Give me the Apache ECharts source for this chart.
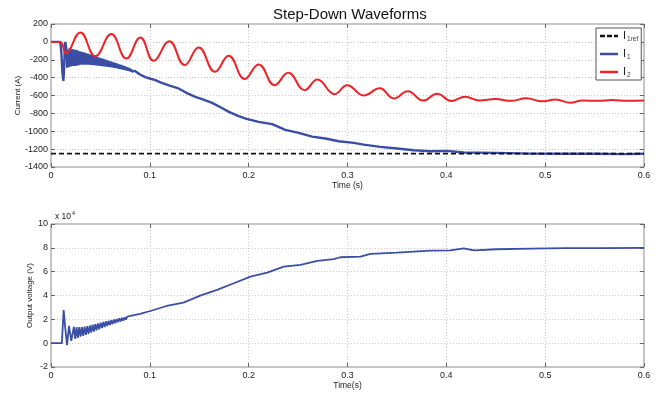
<!DOCTYPE html>
<html><head><meta charset="utf-8">
<script src="https://cdn.jsdelivr.net/npm/echarts@6/dist/echarts.min.js"></script>
<style>html,body{margin:0;padding:0;background:#fff}#c{width:668px;height:394px}</style>
</head><body><div id="c"></div>
<script>
// ---- Data ----
const titleText = 'Step-Down Waveforms';
const legendNames = ['I1ref', 'I1', 'I2'];

const irefTime = [0, 0.6];
const irefVals = [-1250, -1250];

const i2Time = [0, 0.0094, 0.015, 0.0297, 0.0448, 0.061, 0.0762, 0.0904, 0.1038, 0.1197, 0.1352, 0.1494, 0.166, 0.1797, 0.196, 0.210, 0.2263, 0.24, 0.2567, 0.2695, 0.287, 0.2996, 0.3164, 0.3326, 0.3468, 0.361, 0.3765, 0.3907, 0.405, 0.419, 0.4335, 0.4497, 0.465, 0.481, 0.497, 0.5104, 0.5255, 0.5374, 0.554, 0.5678, 0.584, 0.6];
const i2Vals = [0, 0, -128, 105, -160, 88, -187, 50, -212, 8, -260, -62, -335, -155, -415, -252, -484, -346, -540, -420, -585, -484, -600, -520, -633, -553, -656, -580, -662, -615, -655, -640, -660, -632, -665, -645, -682, -656, -660, -650, -660, -656];

const i1Time = [0, 0.0094, 0.0105, 0.0115, 0.0125, 0.0132, 0.0138, 0.0145, 0.0152, 0.0158, 0.0164,
  0.017, 0.018, 0.019, 0.020, 0.021, 0.022, 0.023, 0.024, 0.025, 0.026, 0.027, 0.028, 0.029, 0.030,
  0.031, 0.032, 0.033, 0.034, 0.035, 0.036, 0.037, 0.038, 0.039, 0.040, 0.041, 0.042, 0.043, 0.044,
  0.045, 0.046, 0.047, 0.048, 0.049, 0.050, 0.051, 0.052, 0.053, 0.054, 0.055, 0.056, 0.057, 0.058,
  0.059, 0.060, 0.061, 0.062, 0.063, 0.064, 0.065, 0.066, 0.067, 0.068, 0.069, 0.070, 0.071, 0.072,
  0.073, 0.074, 0.075, 0.076, 0.077, 0.078, 0.079, 0.080, 0.081, 0.082, 0.083, 0.084, 0.085,
  0.090, 0.0954, 0.1, 0.1056, 0.112, 0.12, 0.129, 0.137, 0.146, 0.155, 0.163, 0.172, 0.18, 0.19, 0.197,
  0.21, 0.2237, 0.2371, 0.2506, 0.2642, 0.2776, 0.2911, 0.3063, 0.3164, 0.3333, 0.3502, 0.367, 0.3839,
  0.4008, 0.4176, 0.45, 0.4855, 0.52, 0.55, 0.58, 0.6];
const i1Vals = [0, 0, -120, -330, -436, -320, -120, 0, 20, -100, -290,
  -90, -280, -70, -275, -80, -270, -85, -268, -90, -265, -98, -260, -105, -255,
  -112, -255, -118, -254, -125, -254, -132, -255, -140, -256, -148, -258, -155, -260,
  -162, -262, -170, -265, -178, -268, -185, -270, -192, -273, -200, -276, -208, -279,
  -215, -282, -222, -285, -230, -289, -237, -293, -245, -297, -252, -302, -260, -307,
  -268, -312, -277, -317, -286, -322, -295, -328, -305, -333, -314, -338, -325,
  -365, -395, -410, -428, -458, -490, -521, -570, -615, -650, -682, -735, -783, -830, -858,
  -895, -921, -985, -1019, -1060, -1081, -1112, -1130, -1150, -1175, -1193, -1212, -1224,
  -1220, -1238, -1242, -1250, -1252, -1252, -1256, -1252];

const vTime = [0, 0.011, 0.0128, 0.0145, 0.0162, 0.0182, 0.0205,
  0.0232, 0.0245, 0.0259, 0.0272, 0.0286, 0.0299, 0.0313, 0.0326, 0.034, 0.0353, 0.0367, 0.038,
  0.0394, 0.0407, 0.0421, 0.0434, 0.0448, 0.0461, 0.0475, 0.0488, 0.0502, 0.0515, 0.0529, 0.0542,
  0.0556, 0.0569, 0.0583, 0.0596, 0.061, 0.0623, 0.0637, 0.065, 0.0664, 0.0677, 0.0691, 0.0704,
  0.0718, 0.0731, 0.0745, 0.0758, 0.0772, 0.0785, 0.08, 0.0813, 0.083, 0.085,
  0.09, 0.1005, 0.117, 0.134, 0.151, 0.168, 0.185, 0.2018, 0.2187, 0.2355, 0.2524, 0.2693, 0.2861,
  0.2928, 0.3131, 0.3232, 0.35, 0.3839, 0.404, 0.4176, 0.428, 0.451, 0.4855, 0.52, 0.56, 0.6];
const vVals = [0, 0, 2.78, 1.2, -0.16, 1.45, 0.2,
  1.38, 0.35, 1.35, 0.45, 1.35, 0.55, 1.35, 0.62, 1.38, 0.7, 1.42, 0.78,
  1.48, 0.88, 1.55, 0.98, 1.6, 1.08, 1.66, 1.17, 1.72, 1.26, 1.78, 1.35,
  1.83, 1.44, 1.88, 1.52, 1.93, 1.6, 1.98, 1.68, 2.03, 1.76, 2.08, 1.83,
  2.12, 1.9, 2.17, 1.98, 2.22, 2.06, 2.28, 2.14, 2.34, 2.25,
  2.45, 2.7, 3.12, 3.4, 3.99, 4.47, 5.03, 5.59, 5.92, 6.43, 6.57, 6.9, 7.05,
  7.21, 7.27, 7.49, 7.6, 7.77, 7.78, 7.95, 7.78, 7.88, 7.94, 7.97, 7.98, 8.0];

// ---- Build ----
const zip = (a, b) => a.map((t, i) => [t, b[i]]);
const FONT = 'Liberation Sans, Arial, sans-serif';
const gridColor = '#c8c8c8';
const frameColor = '#8a8a8a';
const fmtX = v => String(Math.round(v * 10) / 10);
const fmtY = v => String(Math.round(v));
const tick = { show: true, inside: true, length: 4, lineStyle: { color: '#666' } };

function mainX(gi, name) {
  return {
    type: 'value', gridIndex: gi, min: 0, max: 0.6, interval: 0.1, position: 'bottom',
    name: name, nameLocation: 'middle', nameGap: 14, nameMoveOverlap: false,
    nameTextStyle: { fontFamily: FONT, fontSize: 8.5, color: '#222' },
    axisLine: { show: false, onZero: false },
    axisTick: tick,
    axisLabel: { fontFamily: FONT, fontSize: 9, color: '#222', margin: 4, formatter: fmtX },
    splitLine: { show: true, lineStyle: { color: gridColor, type: [1, 2], width: 1 } }
  };
}
function topX(gi) {
  return {
    type: 'value', gridIndex: gi, position: 'top', min: 0, max: 0.6, interval: 0.1,
    axisLine: { show: false, onZero: false }, axisLabel: { show: false }, splitLine: { show: false },
    axisTick: tick
  };
}
function mainY(gi, min, max, interval, name, gap) {
  return {
    type: 'value', gridIndex: gi, min: min, max: max, interval: interval, position: 'left',
    name: name, nameLocation: 'middle', nameGap: gap, nameRotate: 90, nameMoveOverlap: false,
    nameTextStyle: { fontFamily: FONT, fontSize: 8, color: '#222' },
    axisLine: { show: false, onZero: false },
    axisTick: tick,
    axisLabel: { fontFamily: FONT, fontSize: 9, color: '#222', margin: 3, formatter: fmtY },
    splitLine: { show: true, lineStyle: { color: gridColor, type: [1, 2], width: 1 } }
  };
}
function rightY(gi, min, max, interval) {
  return {
    type: 'value', gridIndex: gi, position: 'right', min: min, max: max, interval: interval,
    axisLine: { show: false, onZero: false }, axisLabel: { show: false }, splitLine: { show: false },
    axisTick: tick
  };
}

const chart = echarts.init(document.getElementById('c'), null, { renderer: 'canvas' });
const sub = {
  i: { fontFamily: FONT, fontSize: 11, color: '#222', lineHeight: 14 },
  s: { fontFamily: FONT, fontSize: 6.5, color: '#444', lineHeight: 14, padding: [7, 0, 0, 1] }
};
const dashIcon = 'path://M0,0h5v2h-5z M7,0h5v2h-5z M14,0h4v2h-4z';
chart.setOption({
  animation: false,
  backgroundColor: '#fff',
  title: {
    text: titleText, left: 268, top: 2,
    textStyle: { fontFamily: FONT, fontSize: 15, fontWeight: 'normal', color: '#111' }
  },
  grid: [
    { left: 51, top: 24, width: 593, height: 143, show: true, borderColor: frameColor, borderWidth: 1, backgroundColor: 'transparent' },
    { left: 51, top: 224, width: 593, height: 143, show: true, borderColor: frameColor, borderWidth: 1, backgroundColor: 'transparent' }
  ],
  xAxis: [mainX(0, 'Time (s)'), mainX(1, 'Time(s)'), topX(0), topX(1)],
  yAxis: [mainY(0, -1400, 200, 200, 'Current (A)', 29), mainY(1, -2, 10, 2, 'Output voltage (V)', 17),
          rightY(0, -1400, 200, 200), rightY(1, -2, 10, 2)],
  legend: {
    data: [
      { name: 'I1ref', icon: dashIcon },
      { name: 'I1', icon: 'rect' },
      { name: 'I2', icon: 'rect' }
    ],
    orient: 'vertical', left: 596, top: 28, symbolKeepAspect: false,
    padding: [1, 3, 1, 4], itemGap: 4, itemWidth: 18, itemHeight: 2.5,
    backgroundColor: '#fff', borderColor: '#555', borderWidth: 1, borderRadius: 0,
    formatter: n => n === 'I1ref' ? '{i|I}{s|1ref}' : (n === 'I1' ? '{i|I}{s|1}' : '{i|I}{s|2}'),
    textStyle: { rich: sub, padding: [0, 0, 0, 0] }
  },
  graphic: [{
    type: 'text', left: 55, top: 209,
    style: { text: '{a|x 10}{b|4}', rich: {
      a: { fontFamily: FONT, fontSize: 8.5, fill: '#222', lineHeight: 12, padding: [3, 0, 0, 0] },
      b: { fontFamily: FONT, fontSize: 5.5, fill: '#222', lineHeight: 12, padding: [0, 0, 4, 1] } } }
  }],
  series: [
    { name: 'I1ref', type: 'line', xAxisIndex: 0, yAxisIndex: 0, data: zip(irefTime, irefVals),
      showSymbol: false, symbol: 'none', lineStyle: { color: '#111', width: 1.6, type: [5, 3] }, itemStyle: { color: '#111' }, z: 4 },
    { name: 'I1', type: 'line', xAxisIndex: 0, yAxisIndex: 0, data: zip(i1Time, i1Vals),
      showSymbol: false, symbol: 'none', lineStyle: { color: '#3a4ea6', width: 2.4 }, itemStyle: { color: '#3a4ea6' }, z: 3 },
    { name: 'I2', type: 'line', xAxisIndex: 0, yAxisIndex: 0, data: zip(i2Time, i2Vals), smooth: 0.45,
      showSymbol: false, symbol: 'none', lineStyle: { color: '#ec2328', width: 2 }, itemStyle: { color: '#ec2328' }, z: 5 },
    { name: 'Vout', type: 'line', xAxisIndex: 1, yAxisIndex: 1, data: zip(vTime, vVals),
      showSymbol: false, symbol: 'none', lineStyle: { color: '#3a4ea6', width: 1.8 }, itemStyle: { color: '#3a4ea6' } }
  ]
});
</script></body></html>
